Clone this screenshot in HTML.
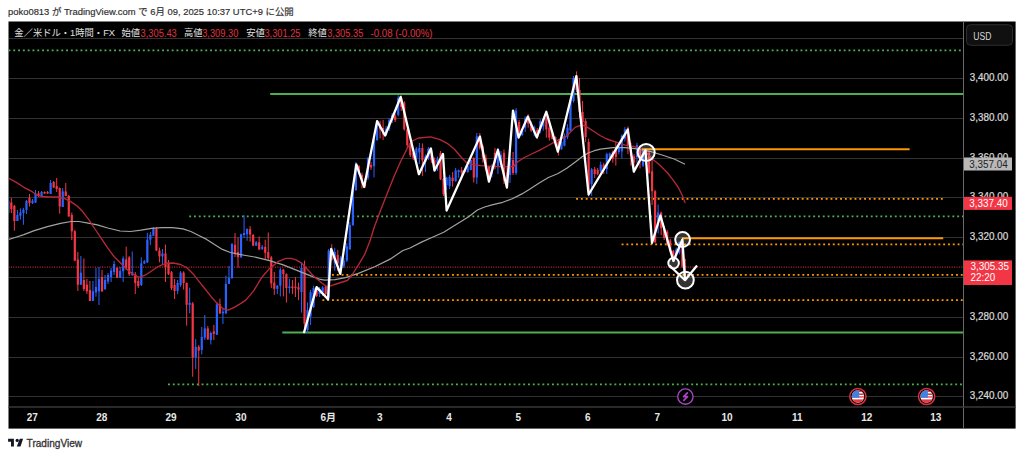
<!DOCTYPE html>
<html><head><meta charset="utf-8"><title>TradingView chart</title>
<style>html,body{margin:0;padding:0;background:#fff;width:1024px;height:457px;overflow:hidden}</style>
</head><body>
<svg width="1024" height="457" viewBox="0 0 1024 457" style="display:block">
<rect x="0" y="0" width="1024" height="457" fill="#fff"/>
<text x="8" y="15.2" font-family="'Liberation Sans','Noto Sans CJK JP',sans-serif" font-size="9.42" fill="#303030" stroke="#303030" stroke-width="0.18">poko0813 が TradingView.com で 6月 09, 2025 10:37 UTC+9 に公開</text>
<rect x="8.5" y="21.5" width="1007.1" height="407.1" fill="#000"/>
<defs><clipPath id="pc"><rect x="9.0" y="22.0" width="954" height="384.5"/></clipPath></defs>
<g clip-path="url(#pc)">
<line x1="8.5" y1="38.5" x2="963.5" y2="38.5" stroke="#323232" stroke-width="1"/>
<line x1="8.5" y1="78.5" x2="963.5" y2="78.5" stroke="#323232" stroke-width="1"/>
<line x1="8.5" y1="118.5" x2="963.5" y2="118.5" stroke="#323232" stroke-width="1"/>
<line x1="8.5" y1="158.5" x2="963.5" y2="158.5" stroke="#323232" stroke-width="1"/>
<line x1="8.5" y1="197.5" x2="963.5" y2="197.5" stroke="#323232" stroke-width="1"/>
<line x1="8.5" y1="237.5" x2="963.5" y2="237.5" stroke="#323232" stroke-width="1"/>
<line x1="8.5" y1="277.5" x2="963.5" y2="277.5" stroke="#323232" stroke-width="1"/>
<line x1="8.5" y1="317.5" x2="963.5" y2="317.5" stroke="#323232" stroke-width="1"/>
<line x1="8.5" y1="357.5" x2="963.5" y2="357.5" stroke="#323232" stroke-width="1"/>
<line x1="8.5" y1="396.5" x2="963.5" y2="396.5" stroke="#323232" stroke-width="1"/>
<line x1="8.5" y1="50.4" x2="963.5" y2="50.4" stroke="#4caf50" stroke-width="1.8" stroke-dasharray="1.9 2.9"/>
<line x1="270.2" y1="94.1" x2="963.5" y2="94.1" stroke="#4caf50" stroke-width="2"/>
<line x1="189.2" y1="216.4" x2="963.5" y2="216.4" stroke="#4caf50" stroke-width="1.8" stroke-dasharray="1.9 2.9"/>
<line x1="168" y1="384.3" x2="963.5" y2="384.3" stroke="#4caf50" stroke-width="1.8" stroke-dasharray="1.9 2.9"/>
<line x1="282.3" y1="332.4" x2="963.5" y2="332.4" stroke="#4caf50" stroke-width="2"/>
<line x1="576.1" y1="198.8" x2="943.2" y2="198.8" stroke="#ff9800" stroke-width="1.8" stroke-dasharray="1.9 2.9"/>
<line x1="621.6" y1="244.4" x2="963.5" y2="244.4" stroke="#ff9800" stroke-width="1.8" stroke-dasharray="1.9 2.9"/>
<line x1="332" y1="274.8" x2="963.5" y2="274.8" stroke="#ff9800" stroke-width="1.8" stroke-dasharray="1.9 2.9"/>
<line x1="322.4" y1="300.1" x2="963.5" y2="300.1" stroke="#ff9800" stroke-width="1.8" stroke-dasharray="1.9 2.9"/>
<line x1="8.5" y1="267.1" x2="963.5" y2="267.1" stroke="#f23645" stroke-width="1" stroke-dasharray="1 1.4"/>
<rect x="7.82" y="199" width="1" height="15" fill="#2962ff"/>
<rect x="7.22" y="200.6" width="2.2" height="12.4" fill="#2962ff"/>
<rect x="10.84" y="198" width="1" height="15" fill="#f23645"/>
<rect x="10.24" y="202.5" width="2.2" height="6.5" fill="#f23645"/>
<rect x="13.87" y="205" width="1" height="25.7" fill="#f23645"/>
<rect x="13.27" y="205.8" width="2.2" height="15.2" fill="#f23645"/>
<rect x="16.89" y="210" width="1" height="11" fill="#2962ff"/>
<rect x="16.29" y="215" width="2.2" height="6" fill="#2962ff"/>
<rect x="19.91" y="208.4" width="1" height="11.2" fill="#2962ff"/>
<rect x="19.31" y="212.4" width="2.2" height="3.3" fill="#2962ff"/>
<rect x="22.93" y="207.8" width="1" height="17" fill="#2962ff"/>
<rect x="22.33" y="209.8" width="2.2" height="3.2" fill="#2962ff"/>
<rect x="25.96" y="200" width="1" height="14" fill="#2962ff"/>
<rect x="25.36" y="201" width="2.2" height="8.8" fill="#2962ff"/>
<rect x="28.98" y="194" width="1" height="12.5" fill="#f23645"/>
<rect x="28.38" y="198" width="2.2" height="5" fill="#f23645"/>
<rect x="32" y="199" width="1" height="5" fill="#2962ff"/>
<rect x="31.4" y="200.6" width="2.2" height="2.6" fill="#2962ff"/>
<rect x="35.02" y="190" width="1" height="13" fill="#2962ff"/>
<rect x="34.42" y="193.4" width="2.2" height="9.1" fill="#2962ff"/>
<rect x="38.04" y="191" width="1" height="6" fill="#f23645"/>
<rect x="37.44" y="193.4" width="2.2" height="2.6" fill="#f23645"/>
<rect x="41.07" y="191" width="1" height="6" fill="#2962ff"/>
<rect x="40.47" y="192" width="2.2" height="4" fill="#2962ff"/>
<rect x="44.09" y="191.5" width="1" height="2.5" fill="#f23645"/>
<rect x="43.49" y="192" width="2.2" height="1.4" fill="#f23645"/>
<rect x="47.11" y="191" width="1" height="3" fill="#f23645"/>
<rect x="46.51" y="192" width="2.2" height="1.4" fill="#f23645"/>
<rect x="50.13" y="180" width="1" height="14" fill="#2962ff"/>
<rect x="49.53" y="183" width="2.2" height="11" fill="#2962ff"/>
<rect x="53.16" y="181" width="1" height="7" fill="#f23645"/>
<rect x="52.56" y="182" width="2.2" height="5.5" fill="#f23645"/>
<rect x="56.18" y="178" width="1" height="14" fill="#f23645"/>
<rect x="55.58" y="186" width="2.2" height="3" fill="#f23645"/>
<rect x="59.2" y="187.5" width="1" height="26.2" fill="#f23645"/>
<rect x="58.6" y="188" width="2.2" height="18.5" fill="#f23645"/>
<rect x="62.22" y="188" width="1" height="19" fill="#2962ff"/>
<rect x="61.62" y="191.4" width="2.2" height="15.6" fill="#2962ff"/>
<rect x="65.25" y="183" width="1" height="13" fill="#f23645"/>
<rect x="64.65" y="191.4" width="2.2" height="4.6" fill="#f23645"/>
<rect x="68.27" y="195" width="1" height="22" fill="#f23645"/>
<rect x="67.67" y="196" width="2.2" height="20.3" fill="#f23645"/>
<rect x="71.29" y="212.6" width="1" height="27.4" fill="#f23645"/>
<rect x="70.69" y="215" width="2.2" height="16.3" fill="#f23645"/>
<rect x="74.31" y="230" width="1" height="31" fill="#f23645"/>
<rect x="73.71" y="231.2" width="2.2" height="29.5" fill="#f23645"/>
<rect x="77.34" y="252" width="1" height="39" fill="#f23645"/>
<rect x="76.74" y="259.6" width="2.2" height="25.1" fill="#f23645"/>
<rect x="80.36" y="256" width="1" height="29" fill="#2962ff"/>
<rect x="79.76" y="272.7" width="2.2" height="12" fill="#2962ff"/>
<rect x="83.38" y="258.5" width="1" height="32.5" fill="#f23645"/>
<rect x="82.78" y="280" width="2.2" height="9" fill="#f23645"/>
<rect x="86.4" y="279" width="1" height="15" fill="#f23645"/>
<rect x="85.8" y="284.7" width="2.2" height="6.6" fill="#f23645"/>
<rect x="89.43" y="281" width="1" height="20" fill="#f23645"/>
<rect x="88.83" y="290" width="2.2" height="11" fill="#f23645"/>
<rect x="92.45" y="281" width="1" height="20" fill="#2962ff"/>
<rect x="91.85" y="291.3" width="2.2" height="9.7" fill="#2962ff"/>
<rect x="95.47" y="268" width="1" height="28.7" fill="#2962ff"/>
<rect x="94.87" y="287" width="2.2" height="5.4" fill="#2962ff"/>
<rect x="98.49" y="267" width="1" height="38" fill="#2962ff"/>
<rect x="97.89" y="279" width="2.2" height="12.3" fill="#2962ff"/>
<rect x="101.52" y="270" width="1" height="22" fill="#f23645"/>
<rect x="100.92" y="277" width="2.2" height="14.3" fill="#f23645"/>
<rect x="104.54" y="275" width="1" height="15" fill="#2962ff"/>
<rect x="103.94" y="280" width="2.2" height="9" fill="#2962ff"/>
<rect x="107.56" y="273" width="1" height="11" fill="#2962ff"/>
<rect x="106.96" y="275" width="2.2" height="6.5" fill="#2962ff"/>
<rect x="110.58" y="268" width="1" height="14" fill="#2962ff"/>
<rect x="109.98" y="270.5" width="2.2" height="6.5" fill="#2962ff"/>
<rect x="113.6" y="261" width="1" height="14" fill="#2962ff"/>
<rect x="113" y="264" width="2.2" height="8" fill="#2962ff"/>
<rect x="116.63" y="267" width="1" height="11" fill="#f23645"/>
<rect x="116.03" y="268" width="2.2" height="9.8" fill="#f23645"/>
<rect x="119.65" y="267" width="1" height="11" fill="#2962ff"/>
<rect x="119.05" y="271" width="2.2" height="6.8" fill="#2962ff"/>
<rect x="122.67" y="256.4" width="1" height="25.6" fill="#2962ff"/>
<rect x="122.07" y="258.4" width="2.2" height="12.8" fill="#2962ff"/>
<rect x="125.69" y="246.6" width="1" height="23.4" fill="#f23645"/>
<rect x="125.09" y="259.4" width="2.2" height="8.9" fill="#f23645"/>
<rect x="128.72" y="256" width="1" height="20" fill="#f23645"/>
<rect x="128.12" y="257.4" width="2.2" height="16.8" fill="#f23645"/>
<rect x="131.74" y="251.5" width="1" height="24.5" fill="#2962ff"/>
<rect x="131.14" y="272" width="2.2" height="3" fill="#2962ff"/>
<rect x="134.76" y="272" width="1" height="22" fill="#f23645"/>
<rect x="134.16" y="274.2" width="2.2" height="8.8" fill="#f23645"/>
<rect x="137.78" y="278" width="1" height="10" fill="#f23645"/>
<rect x="137.18" y="281" width="2.2" height="5" fill="#f23645"/>
<rect x="140.81" y="257.4" width="1" height="28.6" fill="#2962ff"/>
<rect x="140.21" y="263.4" width="2.2" height="21.6" fill="#2962ff"/>
<rect x="143.83" y="260" width="1" height="4" fill="#2962ff"/>
<rect x="143.23" y="261.4" width="2.2" height="2" fill="#2962ff"/>
<rect x="146.85" y="232.8" width="1" height="30.2" fill="#2962ff"/>
<rect x="146.25" y="239.7" width="2.2" height="22.7" fill="#2962ff"/>
<rect x="149.87" y="232" width="1" height="13" fill="#2962ff"/>
<rect x="149.27" y="234.7" width="2.2" height="5" fill="#2962ff"/>
<rect x="152.9" y="227" width="1" height="9" fill="#2962ff"/>
<rect x="152.3" y="228.8" width="2.2" height="6.9" fill="#2962ff"/>
<rect x="155.92" y="227" width="1" height="24" fill="#f23645"/>
<rect x="155.32" y="228.8" width="2.2" height="21.7" fill="#f23645"/>
<rect x="158.94" y="247.6" width="1" height="14.8" fill="#f23645"/>
<rect x="158.34" y="250.5" width="2.2" height="5.9" fill="#f23645"/>
<rect x="161.96" y="249" width="1" height="16" fill="#2962ff"/>
<rect x="161.36" y="253.5" width="2.2" height="2.9" fill="#2962ff"/>
<rect x="164.99" y="244.6" width="1" height="37.4" fill="#f23645"/>
<rect x="164.39" y="253.5" width="2.2" height="13.8" fill="#f23645"/>
<rect x="168.01" y="260" width="1" height="15" fill="#f23645"/>
<rect x="167.41" y="262.4" width="2.2" height="11.8" fill="#f23645"/>
<rect x="171.03" y="271" width="1" height="19" fill="#f23645"/>
<rect x="170.43" y="272.2" width="2.2" height="15.8" fill="#f23645"/>
<rect x="174.05" y="279" width="1" height="20" fill="#f23645"/>
<rect x="173.45" y="285" width="2.2" height="6" fill="#f23645"/>
<rect x="177.08" y="280" width="1" height="14" fill="#2962ff"/>
<rect x="176.48" y="283" width="2.2" height="8" fill="#2962ff"/>
<rect x="180.1" y="271" width="1" height="16" fill="#2962ff"/>
<rect x="179.5" y="272.6" width="2.2" height="12.4" fill="#2962ff"/>
<rect x="183.12" y="271.3" width="1" height="18.4" fill="#f23645"/>
<rect x="182.52" y="272.6" width="2.2" height="10.4" fill="#f23645"/>
<rect x="186.14" y="282.5" width="1" height="43.2" fill="#f23645"/>
<rect x="185.54" y="283" width="2.2" height="21.8" fill="#f23645"/>
<rect x="189.16" y="287.7" width="1" height="25.6" fill="#2962ff"/>
<rect x="188.56" y="302.8" width="2.2" height="2" fill="#2962ff"/>
<rect x="192.19" y="302" width="1" height="74.7" fill="#f23645"/>
<rect x="191.59" y="303.4" width="2.2" height="54.1" fill="#f23645"/>
<rect x="195.21" y="339" width="1" height="30" fill="#2962ff"/>
<rect x="194.61" y="346.8" width="2.2" height="10.7" fill="#2962ff"/>
<rect x="198.23" y="345" width="1" height="41" fill="#f23645"/>
<rect x="197.63" y="346.8" width="2.2" height="3.8" fill="#f23645"/>
<rect x="201.25" y="327" width="1" height="27.5" fill="#2962ff"/>
<rect x="200.65" y="336.9" width="2.2" height="13" fill="#2962ff"/>
<rect x="204.28" y="315" width="1" height="25" fill="#2962ff"/>
<rect x="203.68" y="328.4" width="2.2" height="9.2" fill="#2962ff"/>
<rect x="207.3" y="326" width="1" height="14" fill="#f23645"/>
<rect x="206.7" y="328.4" width="2.2" height="10.8" fill="#f23645"/>
<rect x="210.32" y="331.5" width="1" height="13" fill="#2962ff"/>
<rect x="209.72" y="333" width="2.2" height="7" fill="#2962ff"/>
<rect x="213.34" y="324.8" width="1" height="15.2" fill="#f23645"/>
<rect x="212.74" y="331.4" width="2.2" height="2.5" fill="#f23645"/>
<rect x="216.37" y="302" width="1" height="33" fill="#2962ff"/>
<rect x="215.77" y="304.3" width="2.2" height="30.4" fill="#2962ff"/>
<rect x="219.39" y="298.6" width="1" height="15.4" fill="#f23645"/>
<rect x="218.79" y="304.3" width="2.2" height="9.1" fill="#f23645"/>
<rect x="222.41" y="308.4" width="1" height="15.6" fill="#2962ff"/>
<rect x="221.81" y="311.7" width="2.2" height="1.7" fill="#2962ff"/>
<rect x="225.43" y="275.7" width="1" height="38.3" fill="#2962ff"/>
<rect x="224.83" y="283.9" width="2.2" height="29.5" fill="#2962ff"/>
<rect x="228.46" y="266" width="1" height="18" fill="#2962ff"/>
<rect x="227.86" y="278" width="2.2" height="5.9" fill="#2962ff"/>
<rect x="231.48" y="243" width="1" height="36" fill="#2962ff"/>
<rect x="230.88" y="244" width="2.2" height="34" fill="#2962ff"/>
<rect x="234.5" y="233" width="1" height="24" fill="#f23645"/>
<rect x="233.9" y="244.8" width="2.2" height="9.2" fill="#f23645"/>
<rect x="237.52" y="237.5" width="1" height="30.2" fill="#f23645"/>
<rect x="236.92" y="252" width="2.2" height="5.2" fill="#f23645"/>
<rect x="240.55" y="233.5" width="1" height="24.5" fill="#2962ff"/>
<rect x="239.95" y="234.3" width="2.2" height="22.9" fill="#2962ff"/>
<rect x="243.57" y="215.2" width="1" height="22.8" fill="#2962ff"/>
<rect x="242.97" y="233" width="2.2" height="2" fill="#2962ff"/>
<rect x="246.59" y="228.4" width="1" height="12.4" fill="#2962ff"/>
<rect x="245.99" y="229" width="2.2" height="5.3" fill="#2962ff"/>
<rect x="249.61" y="226" width="1" height="15.6" fill="#f23645"/>
<rect x="249.01" y="229.2" width="2.2" height="5.2" fill="#f23645"/>
<rect x="252.64" y="234" width="1" height="12" fill="#f23645"/>
<rect x="252.04" y="235" width="2.2" height="10.6" fill="#f23645"/>
<rect x="255.66" y="241" width="1" height="5" fill="#2962ff"/>
<rect x="255.06" y="242.3" width="2.2" height="3.3" fill="#2962ff"/>
<rect x="258.68" y="236.4" width="1" height="13.8" fill="#f23645"/>
<rect x="258.08" y="242.3" width="2.2" height="7.2" fill="#f23645"/>
<rect x="261.7" y="245" width="1" height="5" fill="#2962ff"/>
<rect x="261.1" y="246.9" width="2.2" height="2" fill="#2962ff"/>
<rect x="264.72" y="239.7" width="1" height="19.6" fill="#f23645"/>
<rect x="264.12" y="246.9" width="2.2" height="5.9" fill="#f23645"/>
<rect x="267.75" y="232.5" width="1" height="28.2" fill="#f23645"/>
<rect x="267.15" y="252.1" width="2.2" height="5.9" fill="#f23645"/>
<rect x="270.77" y="256" width="1" height="32" fill="#f23645"/>
<rect x="270.17" y="257.4" width="2.2" height="26" fill="#f23645"/>
<rect x="273.79" y="271.9" width="1" height="23" fill="#f23645"/>
<rect x="273.19" y="282.6" width="2.2" height="6.2" fill="#f23645"/>
<rect x="276.81" y="285" width="1" height="9" fill="#2962ff"/>
<rect x="276.21" y="285.7" width="2.2" height="3.1" fill="#2962ff"/>
<rect x="279.84" y="268" width="1" height="28.4" fill="#2962ff"/>
<rect x="279.24" y="269.6" width="2.2" height="16.1" fill="#2962ff"/>
<rect x="282.86" y="268.8" width="1" height="27.6" fill="#f23645"/>
<rect x="282.26" y="269.6" width="2.2" height="4.6" fill="#f23645"/>
<rect x="285.88" y="273.4" width="1" height="29.1" fill="#f23645"/>
<rect x="285.28" y="274.2" width="2.2" height="13.8" fill="#f23645"/>
<rect x="288.9" y="278.8" width="1" height="14.6" fill="#2962ff"/>
<rect x="288.3" y="286.5" width="2.2" height="1.5" fill="#2962ff"/>
<rect x="291.93" y="280" width="1" height="14" fill="#f23645"/>
<rect x="291.33" y="286.5" width="2.2" height="1.5" fill="#f23645"/>
<rect x="294.95" y="277" width="1" height="20" fill="#f23645"/>
<rect x="294.35" y="286.5" width="2.2" height="1.5" fill="#f23645"/>
<rect x="297.97" y="282.6" width="1" height="17.6" fill="#f23645"/>
<rect x="297.37" y="287.2" width="2.2" height="2.3" fill="#f23645"/>
<rect x="300.99" y="262.4" width="1" height="50.2" fill="#2962ff"/>
<rect x="300.39" y="268" width="2.2" height="24" fill="#2962ff"/>
<rect x="304.02" y="260.6" width="1" height="72.4" fill="#f23645"/>
<rect x="303.42" y="266.2" width="2.2" height="57.6" fill="#f23645"/>
<rect x="307.04" y="302.4" width="1" height="30.6" fill="#2962ff"/>
<rect x="306.44" y="310" width="2.2" height="20" fill="#2962ff"/>
<rect x="310.06" y="290" width="1" height="35" fill="#2962ff"/>
<rect x="309.46" y="292.2" width="2.2" height="24.2" fill="#2962ff"/>
<rect x="313.08" y="285.7" width="1" height="22.3" fill="#2962ff"/>
<rect x="312.48" y="288" width="2.2" height="19" fill="#2962ff"/>
<rect x="316.11" y="287" width="1" height="10" fill="#f23645"/>
<rect x="315.51" y="288.5" width="2.2" height="7.5" fill="#f23645"/>
<rect x="319.13" y="287" width="1" height="10" fill="#2962ff"/>
<rect x="318.53" y="289" width="2.2" height="5" fill="#2962ff"/>
<rect x="322.15" y="286" width="1" height="10" fill="#2962ff"/>
<rect x="321.55" y="287.5" width="2.2" height="4.7" fill="#2962ff"/>
<rect x="325.17" y="285" width="1" height="12" fill="#f23645"/>
<rect x="324.57" y="286.6" width="2.2" height="7.4" fill="#f23645"/>
<rect x="328.2" y="249" width="1" height="51" fill="#2962ff"/>
<rect x="327.6" y="250.6" width="2.2" height="47" fill="#2962ff"/>
<rect x="331.22" y="244.2" width="1" height="16.4" fill="#f23645"/>
<rect x="330.62" y="250.6" width="2.2" height="9.3" fill="#f23645"/>
<rect x="334.24" y="247.8" width="1" height="22.8" fill="#2962ff"/>
<rect x="333.64" y="252" width="2.2" height="11.4" fill="#2962ff"/>
<rect x="337.26" y="250" width="1" height="21" fill="#f23645"/>
<rect x="336.66" y="255" width="2.2" height="8.4" fill="#f23645"/>
<rect x="340.28" y="256" width="1" height="17" fill="#2962ff"/>
<rect x="339.68" y="257.8" width="2.2" height="11.3" fill="#2962ff"/>
<rect x="343.31" y="258" width="1" height="10" fill="#2962ff"/>
<rect x="342.71" y="260.6" width="2.2" height="5.7" fill="#2962ff"/>
<rect x="346.33" y="243" width="1" height="19" fill="#2962ff"/>
<rect x="345.73" y="246.4" width="2.2" height="14.2" fill="#2962ff"/>
<rect x="349.35" y="222" width="1" height="28" fill="#2962ff"/>
<rect x="348.75" y="225" width="2.2" height="24.2" fill="#2962ff"/>
<rect x="352.37" y="188" width="1" height="38" fill="#2962ff"/>
<rect x="351.77" y="190" width="2.2" height="35" fill="#2962ff"/>
<rect x="355.4" y="162" width="1" height="29" fill="#2962ff"/>
<rect x="354.8" y="164" width="2.2" height="26" fill="#2962ff"/>
<rect x="358.42" y="165" width="1" height="9.8" fill="#f23645"/>
<rect x="357.82" y="166.2" width="2.2" height="6.6" fill="#f23645"/>
<rect x="361.44" y="172.8" width="1" height="15.7" fill="#f23645"/>
<rect x="360.84" y="174.8" width="2.2" height="8.5" fill="#f23645"/>
<rect x="364.46" y="178" width="1" height="10" fill="#f23645"/>
<rect x="363.86" y="180" width="2.2" height="6" fill="#f23645"/>
<rect x="367.49" y="157" width="1" height="23" fill="#2962ff"/>
<rect x="366.89" y="158.4" width="2.2" height="19.6" fill="#2962ff"/>
<rect x="370.51" y="162" width="1" height="8" fill="#f23645"/>
<rect x="369.91" y="165" width="2.2" height="2.5" fill="#f23645"/>
<rect x="373.53" y="138" width="1" height="39.4" fill="#2962ff"/>
<rect x="372.93" y="140" width="2.2" height="26.2" fill="#2962ff"/>
<rect x="376.55" y="121.5" width="1" height="19.5" fill="#2962ff"/>
<rect x="375.95" y="122.8" width="2.2" height="17.2" fill="#2962ff"/>
<rect x="379.58" y="120.8" width="1" height="17.7" fill="#f23645"/>
<rect x="378.98" y="124" width="2.2" height="5.3" fill="#f23645"/>
<rect x="382.6" y="120" width="1" height="20" fill="#f23645"/>
<rect x="382" y="128" width="2.2" height="6.6" fill="#f23645"/>
<rect x="385.62" y="126" width="1" height="10" fill="#2962ff"/>
<rect x="385.02" y="128.7" width="2.2" height="5.9" fill="#2962ff"/>
<rect x="388.64" y="118" width="1" height="13" fill="#2962ff"/>
<rect x="388.04" y="120.2" width="2.2" height="9.1" fill="#2962ff"/>
<rect x="391.67" y="113" width="1" height="10" fill="#2962ff"/>
<rect x="391.07" y="114.9" width="2.2" height="5.3" fill="#2962ff"/>
<rect x="394.69" y="114" width="1" height="8" fill="#f23645"/>
<rect x="394.09" y="116.2" width="2.2" height="4" fill="#f23645"/>
<rect x="397.71" y="95.2" width="1" height="21" fill="#2962ff"/>
<rect x="397.11" y="97.9" width="2.2" height="17" fill="#2962ff"/>
<rect x="400.73" y="95.2" width="1" height="15.8" fill="#f23645"/>
<rect x="400.13" y="97.9" width="2.2" height="9.1" fill="#f23645"/>
<rect x="403.76" y="101.1" width="1" height="29.6" fill="#f23645"/>
<rect x="403.16" y="102.5" width="2.2" height="26.8" fill="#f23645"/>
<rect x="406.78" y="128" width="1" height="20" fill="#f23645"/>
<rect x="406.18" y="129.3" width="2.2" height="15.8" fill="#f23645"/>
<rect x="409.8" y="140" width="1" height="17" fill="#f23645"/>
<rect x="409.2" y="143.4" width="2.2" height="11.8" fill="#f23645"/>
<rect x="412.82" y="152" width="1" height="8" fill="#f23645"/>
<rect x="412.22" y="153.2" width="2.2" height="4.6" fill="#f23645"/>
<rect x="415.84" y="147" width="1" height="13" fill="#2962ff"/>
<rect x="415.24" y="148.6" width="2.2" height="9.2" fill="#2962ff"/>
<rect x="418.87" y="143" width="1" height="21" fill="#2962ff"/>
<rect x="418.27" y="148" width="2.2" height="4.5" fill="#2962ff"/>
<rect x="421.89" y="143.4" width="1" height="32.7" fill="#f23645"/>
<rect x="421.29" y="148" width="2.2" height="12.4" fill="#f23645"/>
<rect x="424.91" y="154.5" width="1" height="17.5" fill="#2962ff"/>
<rect x="424.31" y="156.5" width="2.2" height="5.2" fill="#2962ff"/>
<rect x="427.93" y="147" width="1" height="13" fill="#2962ff"/>
<rect x="427.33" y="148.6" width="2.2" height="9.2" fill="#2962ff"/>
<rect x="430.96" y="149.5" width="1" height="13.5" fill="#f23645"/>
<rect x="430.36" y="151.2" width="2.2" height="9.2" fill="#f23645"/>
<rect x="433.98" y="157.5" width="1" height="12.5" fill="#f23645"/>
<rect x="433.38" y="160" width="2.2" height="10" fill="#f23645"/>
<rect x="437" y="156.5" width="1" height="14.5" fill="#2962ff"/>
<rect x="436.4" y="159" width="2.2" height="4" fill="#2962ff"/>
<rect x="440.02" y="151" width="1" height="29" fill="#f23645"/>
<rect x="439.42" y="153.1" width="2.2" height="26.2" fill="#f23645"/>
<rect x="443.05" y="178" width="1" height="18" fill="#f23645"/>
<rect x="442.45" y="179" width="2.2" height="15" fill="#f23645"/>
<rect x="446.07" y="176.9" width="1" height="13.1" fill="#2962ff"/>
<rect x="445.47" y="177.7" width="2.2" height="7.4" fill="#2962ff"/>
<rect x="449.09" y="175" width="1" height="14" fill="#2962ff"/>
<rect x="448.49" y="176.9" width="2.2" height="9" fill="#2962ff"/>
<rect x="452.11" y="172" width="1" height="14.7" fill="#f23645"/>
<rect x="451.51" y="177.7" width="2.2" height="3.3" fill="#f23645"/>
<rect x="455.14" y="167.9" width="1" height="13.9" fill="#2962ff"/>
<rect x="454.54" y="170.3" width="2.2" height="10.7" fill="#2962ff"/>
<rect x="458.16" y="169.5" width="1" height="8.2" fill="#2962ff"/>
<rect x="457.56" y="170.3" width="2.2" height="1.7" fill="#2962ff"/>
<rect x="461.18" y="167" width="1" height="10" fill="#f23645"/>
<rect x="460.58" y="170.3" width="2.2" height="2.5" fill="#f23645"/>
<rect x="464.2" y="168.7" width="1" height="4.3" fill="#f23645"/>
<rect x="463.6" y="170" width="2.2" height="2" fill="#f23645"/>
<rect x="467.23" y="164.6" width="1" height="8.2" fill="#2962ff"/>
<rect x="466.63" y="166.2" width="2.2" height="5.8" fill="#2962ff"/>
<rect x="470.25" y="160" width="1" height="10.3" fill="#2962ff"/>
<rect x="469.65" y="160" width="2.2" height="10" fill="#2962ff"/>
<rect x="473.27" y="157.2" width="1" height="25.4" fill="#f23645"/>
<rect x="472.67" y="158" width="2.2" height="19.7" fill="#f23645"/>
<rect x="476.29" y="133" width="1" height="50.9" fill="#2962ff"/>
<rect x="475.69" y="136.4" width="2.2" height="41" fill="#2962ff"/>
<rect x="479.32" y="133" width="1" height="16.5" fill="#f23645"/>
<rect x="478.72" y="135.6" width="2.2" height="12.3" fill="#f23645"/>
<rect x="482.34" y="144.6" width="1" height="18" fill="#f23645"/>
<rect x="481.74" y="146.2" width="2.2" height="11.5" fill="#f23645"/>
<rect x="485.36" y="154.4" width="1" height="16.4" fill="#f23645"/>
<rect x="484.76" y="157.7" width="2.2" height="11.3" fill="#f23645"/>
<rect x="488.38" y="165.9" width="1" height="16.4" fill="#f23645"/>
<rect x="487.78" y="166" width="2.2" height="12" fill="#f23645"/>
<rect x="491.4" y="164.3" width="1" height="13.1" fill="#2962ff"/>
<rect x="490.8" y="165.9" width="2.2" height="8.2" fill="#2962ff"/>
<rect x="494.43" y="147.9" width="1" height="21.3" fill="#f23645"/>
<rect x="493.83" y="152.8" width="2.2" height="9.8" fill="#f23645"/>
<rect x="497.45" y="147.9" width="1" height="26.2" fill="#2962ff"/>
<rect x="496.85" y="151.1" width="2.2" height="14.8" fill="#2962ff"/>
<rect x="500.47" y="151.1" width="1" height="16.4" fill="#2962ff"/>
<rect x="499.87" y="155" width="2.2" height="10" fill="#2962ff"/>
<rect x="503.49" y="149.5" width="1" height="34.4" fill="#f23645"/>
<rect x="502.89" y="152.8" width="2.2" height="27.9" fill="#f23645"/>
<rect x="506.52" y="167.5" width="1" height="21.4" fill="#f23645"/>
<rect x="505.92" y="172.5" width="2.2" height="14.7" fill="#f23645"/>
<rect x="509.54" y="154" width="1" height="29" fill="#2962ff"/>
<rect x="508.94" y="158" width="2.2" height="17" fill="#2962ff"/>
<rect x="512.56" y="152" width="1" height="23" fill="#f23645"/>
<rect x="511.96" y="160" width="2.2" height="13" fill="#f23645"/>
<rect x="515.58" y="108" width="1" height="67" fill="#2962ff"/>
<rect x="514.98" y="110.4" width="2.2" height="62.6" fill="#2962ff"/>
<rect x="518.61" y="119.8" width="1" height="16.2" fill="#f23645"/>
<rect x="518.01" y="122" width="2.2" height="10" fill="#f23645"/>
<rect x="521.63" y="129" width="1" height="7" fill="#2962ff"/>
<rect x="521.03" y="130" width="2.2" height="5" fill="#2962ff"/>
<rect x="524.65" y="116.4" width="1" height="15.6" fill="#2962ff"/>
<rect x="524.05" y="118.5" width="2.2" height="9.2" fill="#2962ff"/>
<rect x="527.67" y="114.2" width="1" height="13.5" fill="#f23645"/>
<rect x="527.07" y="115.6" width="2.2" height="7.9" fill="#f23645"/>
<rect x="530.7" y="121.3" width="1" height="10.7" fill="#f23645"/>
<rect x="530.1" y="123.5" width="2.2" height="7.1" fill="#f23645"/>
<rect x="533.72" y="125.6" width="1" height="10.7" fill="#2962ff"/>
<rect x="533.12" y="127" width="2.2" height="5.7" fill="#2962ff"/>
<rect x="536.74" y="128" width="1" height="11" fill="#f23645"/>
<rect x="536.14" y="130" width="2.2" height="7" fill="#f23645"/>
<rect x="539.76" y="119.2" width="1" height="14.2" fill="#2962ff"/>
<rect x="539.16" y="121.3" width="2.2" height="7.9" fill="#2962ff"/>
<rect x="542.79" y="117.8" width="1" height="12.8" fill="#2962ff"/>
<rect x="542.19" y="119" width="2.2" height="7.3" fill="#2962ff"/>
<rect x="545.81" y="116.4" width="1" height="21.3" fill="#f23645"/>
<rect x="545.21" y="117.8" width="2.2" height="11.4" fill="#f23645"/>
<rect x="548.83" y="125" width="1" height="15.6" fill="#f23645"/>
<rect x="548.23" y="127.7" width="2.2" height="10" fill="#f23645"/>
<rect x="551.85" y="130.7" width="1" height="8.5" fill="#f23645"/>
<rect x="551.25" y="133.5" width="2.2" height="5.7" fill="#f23645"/>
<rect x="554.88" y="136.4" width="1" height="10" fill="#f23645"/>
<rect x="554.28" y="137" width="2.2" height="6" fill="#f23645"/>
<rect x="557.9" y="139" width="1" height="16.6" fill="#f23645"/>
<rect x="557.3" y="142" width="2.2" height="7.9" fill="#f23645"/>
<rect x="560.92" y="140.7" width="1" height="9.2" fill="#2962ff"/>
<rect x="560.32" y="142" width="2.2" height="7.2" fill="#2962ff"/>
<rect x="563.94" y="133.5" width="1" height="12.9" fill="#2962ff"/>
<rect x="563.34" y="135.7" width="2.2" height="9.9" fill="#2962ff"/>
<rect x="566.96" y="124.2" width="1" height="15" fill="#2962ff"/>
<rect x="566.36" y="127.8" width="2.2" height="9.3" fill="#2962ff"/>
<rect x="569.99" y="98" width="1" height="33" fill="#2962ff"/>
<rect x="569.39" y="100" width="2.2" height="30.7" fill="#2962ff"/>
<rect x="573.01" y="76" width="1" height="26.7" fill="#2962ff"/>
<rect x="572.41" y="78" width="2.2" height="23" fill="#2962ff"/>
<rect x="576.03" y="71.4" width="1" height="20.6" fill="#f23645"/>
<rect x="575.43" y="75.7" width="2.2" height="14.3" fill="#f23645"/>
<rect x="579.05" y="78" width="1" height="40" fill="#f23645"/>
<rect x="578.45" y="90" width="2.2" height="22" fill="#f23645"/>
<rect x="582.08" y="101" width="1" height="34" fill="#f23645"/>
<rect x="581.48" y="112" width="2.2" height="10" fill="#f23645"/>
<rect x="585.1" y="119" width="1" height="23" fill="#f23645"/>
<rect x="584.5" y="121" width="2.2" height="16" fill="#f23645"/>
<rect x="588.12" y="138.6" width="1" height="57.7" fill="#f23645"/>
<rect x="587.52" y="142" width="2.2" height="48.7" fill="#f23645"/>
<rect x="591.14" y="168" width="1" height="28" fill="#2962ff"/>
<rect x="590.54" y="169.3" width="2.2" height="14.9" fill="#2962ff"/>
<rect x="594.17" y="167" width="1" height="11" fill="#f23645"/>
<rect x="593.57" y="169.3" width="2.2" height="4.7" fill="#f23645"/>
<rect x="597.19" y="168" width="1" height="7" fill="#f23645"/>
<rect x="596.59" y="170" width="2.2" height="4" fill="#f23645"/>
<rect x="600.21" y="161.6" width="1" height="10.5" fill="#2962ff"/>
<rect x="599.61" y="164.7" width="2.2" height="6.5" fill="#2962ff"/>
<rect x="603.23" y="162.8" width="1" height="11.1" fill="#f23645"/>
<rect x="602.63" y="164.7" width="2.2" height="5.5" fill="#f23645"/>
<rect x="606.26" y="152.8" width="1" height="21.2" fill="#2962ff"/>
<rect x="605.66" y="154.2" width="2.2" height="14.9" fill="#2962ff"/>
<rect x="609.28" y="152.6" width="1" height="7.4" fill="#2962ff"/>
<rect x="608.68" y="153.5" width="2.2" height="3.7" fill="#2962ff"/>
<rect x="612.3" y="150.6" width="1" height="12.1" fill="#f23645"/>
<rect x="611.7" y="152" width="2.2" height="6.4" fill="#f23645"/>
<rect x="615.32" y="141.4" width="1" height="24.2" fill="#f23645"/>
<rect x="614.72" y="148.5" width="2.2" height="8.5" fill="#f23645"/>
<rect x="618.35" y="144.2" width="1" height="10" fill="#2962ff"/>
<rect x="617.75" y="146.3" width="2.2" height="5.7" fill="#2962ff"/>
<rect x="621.37" y="134.2" width="1" height="24.2" fill="#2962ff"/>
<rect x="620.77" y="135.7" width="2.2" height="15.6" fill="#2962ff"/>
<rect x="624.39" y="127.1" width="1" height="14.3" fill="#2962ff"/>
<rect x="623.79" y="129.3" width="2.2" height="9.2" fill="#2962ff"/>
<rect x="627.41" y="126.4" width="1" height="27.8" fill="#f23645"/>
<rect x="626.81" y="127.8" width="2.2" height="17.8" fill="#f23645"/>
<rect x="630.44" y="142.8" width="1" height="22.8" fill="#f23645"/>
<rect x="629.84" y="146.3" width="2.2" height="10" fill="#f23645"/>
<rect x="633.46" y="154.2" width="1" height="18.5" fill="#f23645"/>
<rect x="632.86" y="156.3" width="2.2" height="6.3" fill="#f23645"/>
<rect x="636.48" y="142.8" width="1" height="19.9" fill="#2962ff"/>
<rect x="635.88" y="144.9" width="2.2" height="12.1" fill="#2962ff"/>
<rect x="639.5" y="147" width="1" height="21.5" fill="#f23645"/>
<rect x="638.9" y="148.5" width="2.2" height="9.5" fill="#f23645"/>
<rect x="642.52" y="149" width="1" height="18" fill="#2962ff"/>
<rect x="641.92" y="150" width="2.2" height="15.6" fill="#2962ff"/>
<rect x="645.55" y="148" width="1" height="17" fill="#f23645"/>
<rect x="644.95" y="150" width="2.2" height="10" fill="#f23645"/>
<rect x="648.57" y="151.4" width="1" height="22.6" fill="#f23645"/>
<rect x="647.97" y="152.8" width="2.2" height="19.9" fill="#f23645"/>
<rect x="651.59" y="158.5" width="1" height="46.5" fill="#f23645"/>
<rect x="650.99" y="171.3" width="2.2" height="19.9" fill="#f23645"/>
<rect x="654.61" y="190" width="1" height="53" fill="#f23645"/>
<rect x="654.01" y="191.2" width="2.2" height="51" fill="#f23645"/>
<rect x="657.64" y="204.6" width="1" height="28.9" fill="#2962ff"/>
<rect x="657.04" y="212.5" width="2.2" height="8.7" fill="#2962ff"/>
<rect x="660.66" y="211.6" width="1" height="23.6" fill="#f23645"/>
<rect x="660.06" y="212.5" width="2.2" height="15.7" fill="#f23645"/>
<rect x="663.68" y="226" width="1" height="14" fill="#f23645"/>
<rect x="663.08" y="228" width="2.2" height="10" fill="#f23645"/>
<rect x="666.7" y="230" width="1" height="15.7" fill="#f23645"/>
<rect x="666.1" y="231.7" width="2.2" height="12.3" fill="#f23645"/>
<rect x="669.73" y="238.7" width="1" height="14" fill="#f23645"/>
<rect x="669.13" y="240.5" width="2.2" height="10.5" fill="#f23645"/>
<rect x="672.75" y="250" width="1" height="9.7" fill="#f23645"/>
<rect x="672.15" y="251" width="2.2" height="6" fill="#f23645"/>
<rect x="675.77" y="247.5" width="1" height="10.5" fill="#2962ff"/>
<rect x="675.17" y="249.2" width="2.2" height="7" fill="#2962ff"/>
<rect x="678.79" y="241.3" width="1" height="13.1" fill="#2962ff"/>
<rect x="678.19" y="242.2" width="2.2" height="10.5" fill="#2962ff"/>
<rect x="681.82" y="239" width="1" height="29" fill="#f23645"/>
<rect x="681.22" y="241" width="2.2" height="25.5" fill="#f23645"/>
<rect x="684.84" y="258.9" width="1" height="16" fill="#f23645"/>
<rect x="684.24" y="266.4" width="2.2" height="1" fill="#f23645"/>
<polyline points="8,239.8 15.9,237.2 23.8,234.6 34.3,230.6 47.4,226.7 60.5,223.3 71,221.5 78.9,221.5 86.8,222.8 97.3,224.9 107.8,228 120,231 130.5,231.5 141,230.2 151.5,228.4 162,227.6 172.5,227.6 183,228.9 190.9,231.5 198.8,235.5 206.7,239.4 214.5,244.6 222.4,249.4 230.3,252.5 237.9,254.1 245.8,255.5 256.3,257.3 269.4,260.7 282.5,264.6 295.7,269.9 308.8,275.1 319.3,279.1 324.5,280.2 335,279.6 345.5,277.6 358.3,273.4 374.7,266.8 391.1,258.6 402.9,250.5 410,248 422,241.9 434.1,236.5 443.7,232.3 453.3,226.3 463,220.3 469,216.4 477.4,210 484.6,207 493,204.6 502.7,202.3 512.3,198.7 521.9,193.9 530,189 539.2,182.9 548.4,177.5 557.6,173.7 566.8,168.3 576,161.4 582.1,156.8 588.2,153 594.4,150.7 600.5,149.2 612.9,147.6 625.2,147.6 637.4,148.9 649.7,151.3 662,155 674.2,159 685,164.2" fill="none" stroke="#a2a2a2" stroke-width="1.2" stroke-linejoin="round"/>
<polyline points="8,178.1 15.9,182.1 23.8,187.3 31.6,191.3 36.9,195.2 42.1,196.5 50,197 57.9,197 64.2,198.3 70.4,201.4 76.6,205.6 82.9,211.8 89.1,220.1 95.3,229.5 101.6,238.8 107.8,248.2 114,256.5 120.3,262.7 126.5,269 132.7,274.2 139,277.3 145.2,275.2 151.5,271 157.7,266.8 165.3,263.5 173,263 180.6,264.5 186.7,267.6 192.9,273.7 199,281.4 205.1,289 211.2,296.7 217.3,303.6 223.5,308.9 228.1,310.2 234.2,307.4 240,303.9 245.8,300.1 253.6,290.9 261.5,277.8 269.4,268.6 278.5,261.3 286,258.4 291,258.3 296,259.8 301.7,263.1 307.5,269.5 314,276.5 321.9,283 327.2,287 331.1,285.7 337.7,283.5 347.3,280.5 351.7,275.5 358.3,265.2 364.8,254.2 370.3,240 374.5,226.5 381.1,208.9 387.6,192.5 394.2,176 400.7,161.3 407.3,148.2 412.2,141 418.7,138 430.5,136.8 440,139.6 447.2,143.3 454.5,149.3 461.7,157.7 466.5,162.5 473.7,164.9 481,165.7 488.2,166.1 495.4,166.6 502.7,166.6 509.9,166.8 514,166 517.4,162 524.3,157.5 531.6,154 539.2,150.4 548.4,145.5 556,141.2 561,138.5 566,136.5 571,131.5 575,127.4 579,125.8 584,125.3 588,127.6 594,131.5 600,135.5 606.8,139 616,142.1 625.2,145.2 634.4,146.7 643.6,149.8 653,159.5 660,165.3 667.6,173 673,179.9 678.3,187.5 682.2,195.2 685.2,202.9" fill="none" stroke="#b42838" stroke-width="1.35" stroke-linejoin="round"/>
<line x1="642" y1="149.2" x2="909.6" y2="149.2" stroke="#ff9800" stroke-width="2"/>
<line x1="682" y1="238.3" x2="943.2" y2="238.3" stroke="#ff9800" stroke-width="2"/>
<polyline points="304.1,332.2 316.6,287.1 328,299.2 331.2,248.8 340.3,273.8 356.3,164.3 364.1,187 377.1,121.1 385.1,135.5 400.7,97 418.9,174.2 430.9,148.5 434.5,170.6 443,154 446.6,210.5 479.9,136.6 488.9,181.6 497.9,149.8 506.9,187.5 513,110.6 518.6,137.6 527.8,116.6 536.8,137.4 546.3,111.8 557.9,151.6 576.3,76.2 588.6,194.5 627.8,129.6 633.8,171.6 645.4,150.2 652,242.8 660.4,215.5 673.4,261 682.4,239.5 685,280.2 696.4,266.3" fill="none" stroke="#fff" stroke-width="2.3" stroke-linejoin="round" stroke-linecap="round"/>
<line x1="669.5" y1="265.5" x2="685" y2="280.2" stroke="#fff" stroke-width="2.2"/>
<circle cx="646.2" cy="152.5" r="8.5" fill="rgba(255,255,255,0.2)" stroke="#fff" stroke-width="2"/>
<circle cx="682.6" cy="239.5" r="7.4" fill="rgba(255,255,255,0.2)" stroke="#fff" stroke-width="2"/>
<circle cx="673.6" cy="263.1" r="5.3" fill="rgba(255,255,255,0.2)" stroke="#fff" stroke-width="2"/>
<circle cx="685.4" cy="280.1" r="8.4" fill="rgba(255,255,255,0.2)" stroke="#fff" stroke-width="2"/>
</g>
<line x1="963.5" y1="21.5" x2="963.5" y2="428.6" stroke="#6a6a6a" stroke-width="1"/>
<line x1="8.5" y1="407.0" x2="1015.6" y2="407.0" stroke="#383838" stroke-width="1.4"/>
<text transform="translate(989,81.3) scale(0.94,1)" text-anchor="middle" font-family="'Liberation Sans',sans-serif" font-size="10.5" fill="#d8d8d8" stroke="#d8d8d8" stroke-width="0.25">3,400.00</text>
<text transform="translate(989,121.3) scale(0.94,1)" text-anchor="middle" font-family="'Liberation Sans',sans-serif" font-size="10.5" fill="#d8d8d8" stroke="#d8d8d8" stroke-width="0.25">3,380.00</text>
<text transform="translate(989,161.3) scale(0.94,1)" text-anchor="middle" font-family="'Liberation Sans',sans-serif" font-size="10.5" fill="#d8d8d8" stroke="#d8d8d8" stroke-width="0.25">3,360.00</text>
<text transform="translate(989,200.3) scale(0.94,1)" text-anchor="middle" font-family="'Liberation Sans',sans-serif" font-size="10.5" fill="#d8d8d8" stroke="#d8d8d8" stroke-width="0.25">3,340.00</text>
<text transform="translate(989,240.3) scale(0.94,1)" text-anchor="middle" font-family="'Liberation Sans',sans-serif" font-size="10.5" fill="#d8d8d8" stroke="#d8d8d8" stroke-width="0.25">3,320.00</text>
<text transform="translate(989,320.3) scale(0.94,1)" text-anchor="middle" font-family="'Liberation Sans',sans-serif" font-size="10.5" fill="#d8d8d8" stroke="#d8d8d8" stroke-width="0.25">3,280.00</text>
<text transform="translate(989,360.3) scale(0.94,1)" text-anchor="middle" font-family="'Liberation Sans',sans-serif" font-size="10.5" fill="#d8d8d8" stroke="#d8d8d8" stroke-width="0.25">3,260.00</text>
<text transform="translate(989,399.3) scale(0.94,1)" text-anchor="middle" font-family="'Liberation Sans',sans-serif" font-size="10.5" fill="#d8d8d8" stroke="#d8d8d8" stroke-width="0.25">3,240.00</text>
<rect x="964" y="157.5" width="48" height="13" fill="#b8b8b8"/>
<text transform="translate(988.5,167.8) scale(0.94,1)" text-anchor="middle" font-family="'Liberation Sans',sans-serif" font-size="10.5" fill="#222">3,357.04</text>
<rect x="964" y="196.8" width="48" height="13.1" fill="#f23645"/>
<text transform="translate(988.5,207.2) scale(0.94,1)" text-anchor="middle" font-family="'Liberation Sans',sans-serif" font-size="10.5" fill="#fff">3,337.40</text>
<rect x="964" y="260.4" width="48" height="24.6" fill="#f23645"/>
<text transform="translate(970.6,270.3) scale(0.94,1)" font-family="'Liberation Sans',sans-serif" font-size="10.5" fill="#fff">3,305.35</text>
<text transform="translate(970.6,281.2) scale(0.94,1)" font-family="'Liberation Sans',sans-serif" font-size="10.5" fill="#fff">22:20</text>
<rect x="966.5" y="24.7" width="46" height="20.6" rx="4" fill="#101010" stroke="#2e2e2e" stroke-width="1"/>
<text transform="translate(973.2,39.5) scale(0.86,1)" font-family="'Liberation Sans',sans-serif" font-size="10" fill="#d8d8d8">USD</text>
<text x="32.2" y="421.2" text-anchor="middle" font-family="'Liberation Sans','Noto Sans CJK JP',sans-serif" font-size="10" font-weight="bold" fill="#e8e8e8">27</text>
<text x="101.8" y="421.2" text-anchor="middle" font-family="'Liberation Sans','Noto Sans CJK JP',sans-serif" font-size="10" font-weight="bold" fill="#e8e8e8">28</text>
<text x="171" y="421.2" text-anchor="middle" font-family="'Liberation Sans','Noto Sans CJK JP',sans-serif" font-size="10" font-weight="bold" fill="#e8e8e8">29</text>
<text x="240.9" y="421.2" text-anchor="middle" font-family="'Liberation Sans','Noto Sans CJK JP',sans-serif" font-size="10" font-weight="bold" fill="#e8e8e8">30</text>
<text x="328.2" y="421.2" text-anchor="middle" font-family="'Liberation Sans','Noto Sans CJK JP',sans-serif" font-size="10" font-weight="bold" fill="#e8e8e8">6月</text>
<text x="379.8" y="421.2" text-anchor="middle" font-family="'Liberation Sans','Noto Sans CJK JP',sans-serif" font-size="10" font-weight="bold" fill="#e8e8e8">3</text>
<text x="449.1" y="421.2" text-anchor="middle" font-family="'Liberation Sans','Noto Sans CJK JP',sans-serif" font-size="10" font-weight="bold" fill="#e8e8e8">4</text>
<text x="518.4" y="421.2" text-anchor="middle" font-family="'Liberation Sans','Noto Sans CJK JP',sans-serif" font-size="10" font-weight="bold" fill="#e8e8e8">5</text>
<text x="587.8" y="421.2" text-anchor="middle" font-family="'Liberation Sans','Noto Sans CJK JP',sans-serif" font-size="10" font-weight="bold" fill="#e8e8e8">6</text>
<text x="657.2" y="421.2" text-anchor="middle" font-family="'Liberation Sans','Noto Sans CJK JP',sans-serif" font-size="10" font-weight="bold" fill="#e8e8e8">7</text>
<text x="727" y="421.2" text-anchor="middle" font-family="'Liberation Sans','Noto Sans CJK JP',sans-serif" font-size="10" font-weight="bold" fill="#e8e8e8">10</text>
<text x="797.4" y="421.2" text-anchor="middle" font-family="'Liberation Sans','Noto Sans CJK JP',sans-serif" font-size="10" font-weight="bold" fill="#e8e8e8">11</text>
<text x="866.8" y="421.2" text-anchor="middle" font-family="'Liberation Sans','Noto Sans CJK JP',sans-serif" font-size="10" font-weight="bold" fill="#e8e8e8">12</text>
<text x="935.7" y="421.2" text-anchor="middle" font-family="'Liberation Sans','Noto Sans CJK JP',sans-serif" font-size="10" font-weight="bold" fill="#e8e8e8">13</text>
<circle cx="685.4" cy="396.6" r="7.7" fill="#000" stroke="#a844c4" stroke-width="1.4"/>
<polyline points="687.4,392.9 683.6,396.6 687.6,396.6 683.8,400.3" fill="none" stroke="#a844c4" stroke-width="1.7" stroke-linejoin="round" stroke-linecap="round"/>
<circle cx="857.9" cy="396.5" r="8.1" fill="#000" stroke="#e0303c" stroke-width="1.5"/>
<clipPath id="fc857"><circle cx="857.9" cy="396.5" r="6.2"/></clipPath>
<g clip-path="url(#fc857)">
<rect x="850.9" y="389.5" width="14" height="14" fill="#fff"/>
<rect x="850.9" y="389.5" width="14" height="2.5" fill="#e53945"/>
<rect x="850.9" y="393.4" width="14" height="1.6" fill="#e53945"/>
<rect x="850.9" y="396.3" width="14" height="1.3" fill="#e53945"/>
<rect x="850.9" y="399.4" width="14" height="4.1" fill="#e53945"/>
<rect x="850.9" y="389.5" width="8.3" height="8.3" fill="#3f82e0"/>
</g>
<circle cx="926.6" cy="396.5" r="8.1" fill="#000" stroke="#e0303c" stroke-width="1.5"/>
<clipPath id="fc926"><circle cx="926.6" cy="396.5" r="6.2"/></clipPath>
<g clip-path="url(#fc926)">
<rect x="919.6" y="389.5" width="14" height="14" fill="#fff"/>
<rect x="919.6" y="389.5" width="14" height="2.5" fill="#e53945"/>
<rect x="919.6" y="393.4" width="14" height="1.6" fill="#e53945"/>
<rect x="919.6" y="396.3" width="14" height="1.3" fill="#e53945"/>
<rect x="919.6" y="399.4" width="14" height="4.1" fill="#e53945"/>
<rect x="919.6" y="389.5" width="8.3" height="8.3" fill="#3f82e0"/>
</g>
<text x="14.3" y="36.4" font-family="'Liberation Sans','Noto Sans CJK JP',sans-serif" font-size="9.3" fill="#e0e0e0">金／米ドル・1時間・FX</text>
<text x="121.5" y="36.4" font-family="'Liberation Sans','Noto Sans CJK JP',sans-serif" font-size="9.3" fill="#e0e0e0">始値</text>
<text transform="translate(140.6,36.9) scale(0.86,1)" font-family="'Liberation Sans',sans-serif" font-size="10.8" fill="#e0333f">3,305.43</text>
<text x="184" y="36.4" font-family="'Liberation Sans','Noto Sans CJK JP',sans-serif" font-size="9.3" fill="#e0e0e0">高値</text>
<text transform="translate(202.2,36.9) scale(0.86,1)" font-family="'Liberation Sans',sans-serif" font-size="10.8" fill="#e0333f">3,309.30</text>
<text x="246.3" y="36.4" font-family="'Liberation Sans','Noto Sans CJK JP',sans-serif" font-size="9.3" fill="#e0e0e0">安値</text>
<text transform="translate(264.4,36.9) scale(0.86,1)" font-family="'Liberation Sans',sans-serif" font-size="10.8" fill="#e0333f">3,301.25</text>
<text x="308.3" y="36.4" font-family="'Liberation Sans','Noto Sans CJK JP',sans-serif" font-size="9.3" fill="#e0e0e0">終値</text>
<text transform="translate(327.2,36.9) scale(0.86,1)" font-family="'Liberation Sans',sans-serif" font-size="10.8" fill="#e0333f">3,305.35</text>
<text transform="translate(370.5,36.9) scale(0.9,1)" font-family="'Liberation Sans',sans-serif" font-size="10.8" fill="#e0333f">-0.08 (-0.00%)</text>
<path d="M8.1,438.8 H13.9 V446.5 H11 V441.7 H8.1 Z" fill="#131722"/>
<circle cx="17.2" cy="440.4" r="1.65" fill="#131722"/>
<path d="M19.8,438.8 H23.1 L20.5,446.4 H16.8 Z" fill="#131722"/>
<text x="26.6" y="446.5" font-family="'Liberation Sans',sans-serif" font-size="10.1" fill="#333" stroke="#333" stroke-width="0.3">TradingView</text>
</svg>
</body></html>
